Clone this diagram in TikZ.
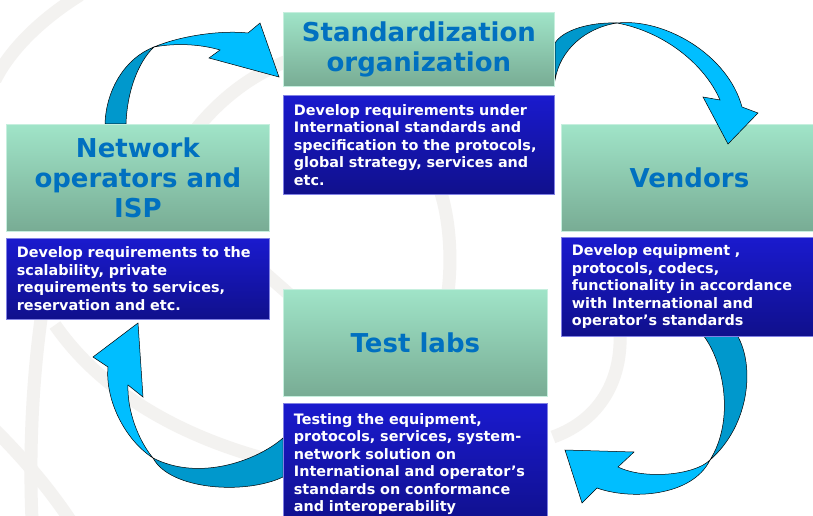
\documentclass[tikz,border=0pt]{standalone}
\usepackage{fontspec}
\setmainfont{DejaVu Sans}
\usetikzlibrary{positioning}

\definecolor{titleblue}{RGB}{0,112,192}
\definecolor{mintTop}{RGB}{160,228,200}
\definecolor{mintBot}{RGB}{120,172,148}
\definecolor{navyTop}{RGB}{26,26,206}
\definecolor{navyBot}{RGB}{16,16,140}
\definecolor{arrowLight}{RGB}{0,190,255}
\definecolor{arrowDark}{RGB}{0,152,204}
\definecolor{wmGray}{RGB}{243,242,240}

\tikzset{
  titlebox/.style={rectangle, top color=mintTop, bottom color=mintBot,
    draw=mintTop!60!white, line width=0.8pt, text=titleblue,
    font=\fontsize{26}{30}\selectfont\bfseries, align=center, inner sep=0pt},
  descbox/.style={rectangle, top color=navyTop, bottom color=navyBot,
    draw=navyTop!55!white, line width=0.8pt, text=white,
    font=\fontsize{14.4}{17.5}\selectfont\bfseries, align=left,
    inner xsep=10.5pt, inner ysep=0pt},
  backpart/.style={fill=arrowDark, draw=black, line width=0.5pt},
  frontpart/.style={fill=arrowLight, draw=black, line width=0.5pt},
  watermark/.style={draw=wmGray, line width=13pt}
}

\begin{document}
\begin{tikzpicture}[x=1pt, y=-1pt]
  \useasboundingbox[fill=white] (0,0) rectangle (813,516);

  % faint logo in the background
  \draw[watermark] (80,-5) .. controls (40,20) and (10,50) .. (-5,80);
  \draw[watermark] (55,240) .. controls (35,330) and (28,430) .. (32,520);
  \draw[watermark] (55,325) .. controls (100,390) and (180,440) .. (290,465);
  \draw[watermark] (-5,430) .. controls (25,460) and (50,490) .. (70,520);
  \draw[watermark] (440,190) .. controls (450,220) and (452,260) .. (448,292);
  \draw[watermark] (262,270) .. controls (272,280) and (285,290) .. (295,300);
  \draw[watermark] (620,333) .. controls (622,380) and (600,420) .. (553,437);
  \draw[watermark] (197,128) .. controls (220,100) and (250,75) .. (290,60);

  % curved arrows
  \draw[backpart] (105,124) .. controls (106,90) and (125,58) .. (154,47)
    .. controls (138,62) and (127,92) .. (126,124) -- cycle;
  \draw[frontpart] (154,47) .. controls (180,36) and (220,30) .. (248,33)
    -- (260,23) -- (279,77) -- (209,58) -- (220,50)
    .. controls (200,44) and (175,43) .. (154,47) -- cycle;

  \draw[backpart] (555,43) .. controls (563,30) and (590,22) .. (617,23)
    .. controls (585,28) and (560,50) .. (555,80) -- cycle;

  \draw[backpart] (703,335) .. controls (724,362) and (735,420) .. (710,460)
    .. controls (750,425) and (755,365) .. (737,335) -- cycle;
  \draw[frontpart] (710,460) .. controls (695,475) and (645,480) .. (618,467)
    -- (634,452) -- (565,450) -- (582,503) -- (597,488)
    .. controls (630,500) and (692,497) .. (710,460) -- cycle;

  \draw[backpart] (283,438) .. controls (258,460) and (200,482) .. (153,458)
    .. controls (170,490) and (245,495) .. (283,477) -- cycle;
  \draw[frontpart] (153,458) .. controls (125,440) and (105,400) .. (108,367)
    -- (93,357) -- (138,323) -- (143,397) -- (128,385)
    .. controls (127,410) and (138,440) .. (153,458) -- cycle;

  % boxes
  \node[titlebox, minimum width=271pt, minimum height=74pt, anchor=north west]
    (std) at (283,12) {Standardization\\organization};
  \node[descbox, text width=250pt, minimum height=99pt,
    below right=8pt and 0pt of std.south west] (stdtext)
    {Develop requirements under\\International standards and\\specification to the protocols,\\global strategy, services and\\etc.};

  \node[titlebox, minimum width=263pt, minimum height=107pt, anchor=north west]
    (net) at (6,124) {Network\\operators and\\ISP};
  \node[descbox, text width=242pt, minimum height=81pt,
    below right=6pt and 0pt of net.south west] (nettext)
    {Develop requirements to the\\scalability, private\\requirements to services,\\reservation and etc.};

  \node[titlebox, minimum width=256pt, minimum height=107pt, anchor=north west]
    (ven) at (561,124) {Vendors};
  \node[descbox, text width=235pt, minimum height=99pt,
    below right=5pt and 0pt of ven.south west] (ventext)
    {Develop equipment ,\\protocols, codecs,\\functionality in accordance\\with International and\\operator’s standards};

  \node[titlebox, minimum width=264pt, minimum height=107pt, anchor=north west]
    (lab) at (283,289) {Test labs};
  \node[descbox, text width=243pt, minimum height=122pt,
    below right=6pt and 0pt of lab.south west] (labtext)
    {Testing the equipment,\\protocols, services, system-\\network solution on\\International and operator’s\\standards on conformance\\and interoperability};

  % head of the arrow towards the vendors lies over their box
  \draw[frontpart] (617,23) .. controls (665,18) and (728,55) .. (742,107)
    -- (758,113) -- (728,144) -- (703,97) -- (720,100)
    .. controls (705,65) and (665,32) .. (617,23) -- cycle;
\end{tikzpicture}
\end{document}
